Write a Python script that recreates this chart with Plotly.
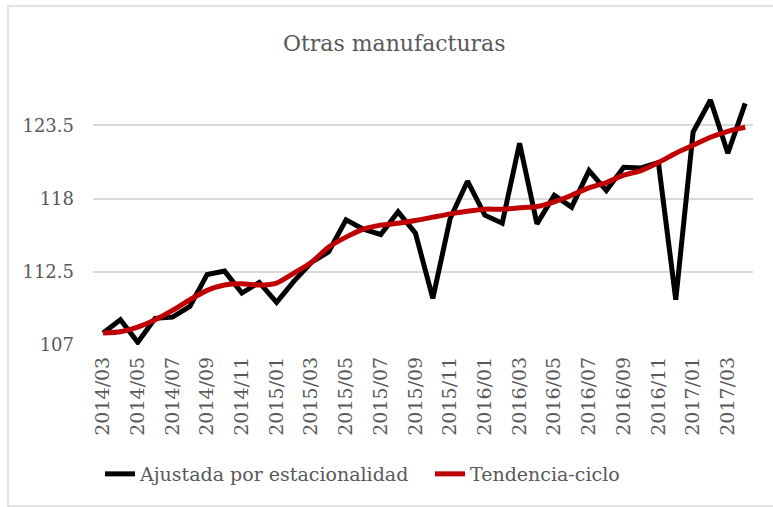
import plotly.graph_objects as go

months = [
    "2014/03", "2014/04", "2014/05", "2014/06", "2014/07", "2014/08", "2014/09", "2014/10",
    "2014/11", "2014/12", "2015/01", "2015/02", "2015/03", "2015/04", "2015/05", "2015/06",
    "2015/07", "2015/08", "2015/09", "2015/10", "2015/11", "2015/12", "2016/01", "2016/02",
    "2016/03", "2016/04", "2016/05", "2016/06", "2016/07", "2016/08", "2016/09", "2016/10",
    "2016/11", "2016/12", "2017/01", "2017/02", "2017/03", "2017/04",
]

ajustada = [
    107.9, 108.9, 107.2, 109.0, 109.1, 109.9, 112.3, 112.55,
    110.9, 111.7, 110.2, 111.8, 113.2, 114.0, 116.4, 115.7,
    115.3, 117.0, 115.4, 110.5, 116.5, 119.3, 116.75, 116.15,
    122.15, 116.1, 118.25, 117.35, 120.1, 118.6, 120.35, 120.3,
    120.7, 110.4, 123.0, 125.4, 121.4, 125.15,
]

tendencia = [
    107.9, 108.0, 108.35, 108.9, 109.6, 110.4, 111.1, 111.5,
    111.6, 111.5, 111.65, 112.4, 113.2, 114.35, 115.1, 115.7,
    116.0, 116.15, 116.35, 116.6, 116.85, 117.05, 117.2, 117.2,
    117.3, 117.4, 117.75, 118.25, 118.8, 119.2, 119.75, 120.1,
    120.7, 121.4, 122.0, 122.6, 123.05, 123.35,
]

y_ticks = [107, 112.5, 118, 123.5]
x_ticks = months[::2]

FONT = "DejaVu Serif"
GRAY = "#595959"

fig = go.Figure()
fig.add_trace(go.Scatter(
    x=months, y=ajustada, mode="lines", name="Ajustada por estacionalidad",
    line=dict(color="#000000", width=5),
))
fig.add_trace(go.Scatter(
    x=months, y=tendencia, mode="lines", name="Tendencia-ciclo",
    line=dict(color="#C00000", width=5, shape="spline", smoothing=0.6),
))

# outer chart border (pixel -> paper conversion for plot area 93..753 x 92..345)
def px(xp):
    return (xp - 93) / 660.0

def py(yp):
    return (345 - yp) / 253.0

fig.add_shape(type="rect", xref="paper", yref="paper",
              x0=px(8), x1=px(790), y0=py(506), y1=py(6),
              line=dict(color="#d9d9d9", width=1.5), fillcolor="rgba(0,0,0,0)", layer="below")

fig.update_layout(
    width=773, height=507,
    margin=dict(l=93, r=20, t=92, b=162),
    paper_bgcolor="white", plot_bgcolor="white",
    font=dict(family=FONT, color=GRAY),
    title=dict(text="Otras manufacturas", x=0.51, xanchor="center", y=1 - 43 / 507, yanchor="middle",
               font=dict(family=FONT, size=22, color=GRAY)),
    showlegend=True,
    legend=dict(orientation="h", x=px(100), xanchor="left", y=py(474), yanchor="middle",
                font=dict(family=FONT, size=19, color=GRAY), itemwidth=30,
                entrywidth=285, entrywidthmode="pixels",
                bgcolor="rgba(0,0,0,0)"),
    xaxis=dict(
        type="category", range=[-0.58, 37.45], automargin=False,
        tickmode="array", tickvals=x_ticks, ticktext=x_ticks,
        tickangle=-90, tickfont=dict(family=FONT, size=19, color=GRAY),
        showgrid=False, showline=False, zeroline=False, ticks="", ticklabelstandoff=7,
    ),
    yaxis=dict(
        range=[107, 126], tickmode="array", tickvals=y_ticks, automargin=False,
        ticktext=[str(v) for v in y_ticks],
        tickfont=dict(family=FONT, size=18, color=GRAY),
        showgrid=True, gridcolor="#d9d9d9", gridwidth=1.5,
        zeroline=False, showline=False, ticks="", ticklabelstandoff=18,
    ),
)

fig.write_html("out.html", config={"displayModeBar": False},
               post_script="document.body.style.margin='0';")
